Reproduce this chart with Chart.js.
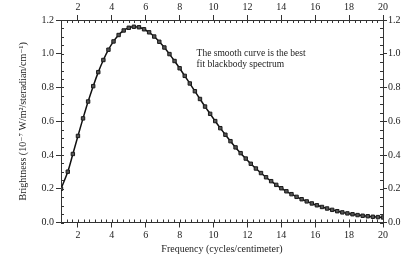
<!DOCTYPE html>
<html>
<head>
<meta charset="utf-8">
<script src="https://cdn.jsdelivr.net/npm/chart.js@4"></script>
<style>
  html, body { margin: 0; padding: 0; background: #fff; }
  #wrap { width: 407px; height: 256px; }
</style>
</head>
<body>
<div id="wrap"><canvas id="spectrum"></canvas></div>
<script>
// data
var freq = [1.0, 1.4, 1.7, 2.0, 2.3, 2.6, 2.9, 3.2, 3.5, 3.8, 4.1, 4.4, 4.7, 5.0, 5.3, 5.6,
            5.9, 6.2, 6.5, 6.8, 7.1, 7.4, 7.7, 8.0, 8.3, 8.6, 8.9, 9.2, 9.5, 9.8, 10.1, 10.4,
            10.7, 11.0, 11.3, 11.6, 11.9, 12.2, 12.5, 12.8, 13.1, 13.4, 13.7, 14.0, 14.3, 14.6,
            14.9, 15.2, 15.5, 15.8, 16.1, 16.4, 16.7, 17.0, 17.3, 17.6, 17.9, 18.2, 18.5, 18.8,
            19.1, 19.4, 19.7, 20.0];
var brightness = [0.200, 0.301, 0.406, 0.513, 0.617, 0.717, 0.808, 0.891, 0.963, 1.024, 1.073,
                  1.111, 1.138, 1.154, 1.160, 1.157, 1.145, 1.127, 1.102, 1.071, 1.037, 0.998,
                  0.957, 0.914, 0.869, 0.824, 0.778, 0.732, 0.687, 0.644, 0.601, 0.559, 0.520,
                  0.482, 0.445, 0.411, 0.379, 0.348, 0.320, 0.293, 0.268, 0.245, 0.223, 0.203,
                  0.185, 0.168, 0.152, 0.138, 0.125, 0.113, 0.102, 0.092, 0.083, 0.075, 0.067,
                  0.060, 0.054, 0.049, 0.044, 0.040, 0.037, 0.034, 0.032, 0.030];
var xTicks = [2, 4, 6, 8, 10, 12, 14, 16, 18, 20];
var yTicks = [0.0, 0.2, 0.4, 0.6, 0.8, 1.0, 1.2];
var noteLines = ['The smooth curve is the best', 'fit blackbody spectrum'];

var serif = '"Liberation Serif", "DejaVu Serif", serif';
var ink = '#222';

var points = freq.map(function (f, i) { return {x: f, y: brightness[i]}; });

function setTicks(list) {
  return function (scale) {
    scale.ticks = list.map(function (v) { return {value: v}; });
  };
}

// small inward minor ticks on all four sides
var minorTicks = {
  id: 'minorTicks',
  afterDraw: function (chart) {
    var c = chart.ctx, a = chart.chartArea;
    var sx = chart.scales.x, sy = chart.scales.y;
    c.save();
    c.strokeStyle = '#333';
    c.lineWidth = 1;
    c.beginPath();
    for (var v = 1; v <= 20.001; v += 1 / 3) {
      var px = Math.round(sx.getPixelForValue(v)) + 0.5;
      c.moveTo(px, a.bottom); c.lineTo(px, a.bottom - 3);
      c.moveTo(px, a.top); c.lineTo(px, a.top + 3);
    }
    for (var w = 0; w <= 1.2001; w += 0.05) {
      var py = Math.round(sy.getPixelForValue(w)) + 0.5;
      c.moveTo(a.left, py); c.lineTo(a.left + 3, py);
      c.moveTo(a.right, py); c.lineTo(a.right - 3, py);
    }
    c.stroke();
    c.restore();
  }
};

var note = {
  id: 'note',
  afterDatasetsDraw: function (chart) {
    var c = chart.ctx;
    var x0 = chart.scales.x.getPixelForValue(9.0);
    var y0 = chart.scales.y.getPixelForValue(1.004);
    c.save();
    c.fillStyle = ink;
    c.font = '9.5px ' + serif;
    c.textBaseline = 'middle';
    noteLines.forEach(function (t, i) { c.fillText(t, x0, y0 + i * 11); });
    c.restore();
  }
};

var axisGrid = {drawOnChartArea: false, drawTicks: true, tickLength: 5, color: '#333'};
var tickFont = {family: serif, size: 10};

new Chart(document.getElementById('spectrum'), {
  type: 'line',
  data: {
    datasets: [{
      data: points,
      xAxisID: 'x',
      yAxisID: 'y',
      borderColor: '#111',
      borderWidth: 1.5,
      tension: 0.3,
      pointStyle: 'rect',
      pointRadius: 2.4,
      pointBorderWidth: 1,
      pointBorderColor: '#1a1a1a',
      pointBackgroundColor: '#555'
    }]
  },
  options: {
    responsive: true,
    maintainAspectRatio: false,
    animation: false,
    layout: {padding: {left: 13, right: 0, top: 0, bottom: 0}},
    plugins: {legend: {display: false}, tooltip: {enabled: false}},
    scales: {
      x: {
        type: 'linear', position: 'bottom', min: 1, max: 20,
        afterBuildTicks: setTicks(xTicks),
        afterFit: function (s) { s.height = 33.5; },
        grid: axisGrid,
        border: {color: '#333'},
        ticks: {font: tickFont, color: ink, padding: 2, maxRotation: 0},
        title: {display: true, text: 'Frequency (cycles/centimeter)', font: {family: serif, size: 10},
                color: ink, padding: {top: 0, bottom: 1}}
      },
      x2: {
        type: 'linear', position: 'top', min: 1, max: 20,
        afterBuildTicks: setTicks(xTicks),
        afterFit: function (s) { s.height = 20; },
        grid: axisGrid,
        border: {color: '#333'},
        ticks: {font: tickFont, color: ink, padding: 2, maxRotation: 0}
      },
      y: {
        type: 'linear', position: 'left', min: 0, max: 1.2,
        afterBuildTicks: setTicks(yTicks),
        afterFit: function (s) { s.width = 48; },
        grid: axisGrid,
        border: {color: '#333'},
        ticks: {font: tickFont, color: ink, padding: 2,
                callback: function (v) { return v.toFixed(1); }},
        title: {display: true, text: 'Brightness (10\u207B\u2077 W/m\u00B2/steradian/cm\u207B\u00B9)',
                font: {family: serif, size: 10}, color: ink, padding: {top: 4, bottom: 0}}
      },
      y2: {
        type: 'linear', position: 'right', min: 0, max: 1.2,
        afterBuildTicks: setTicks(yTicks),
        afterFit: function (s) { s.width = 24; },
        grid: {drawOnChartArea: false, drawTicks: true, tickLength: 4, color: '#333'},
        border: {color: '#333'},
        ticks: {font: tickFont, color: ink, padding: 1,
                callback: function (v) { return v.toFixed(1); }}
      }
    }
  },
  plugins: [minorTicks, note]
});
</script>
</body>
</html>
